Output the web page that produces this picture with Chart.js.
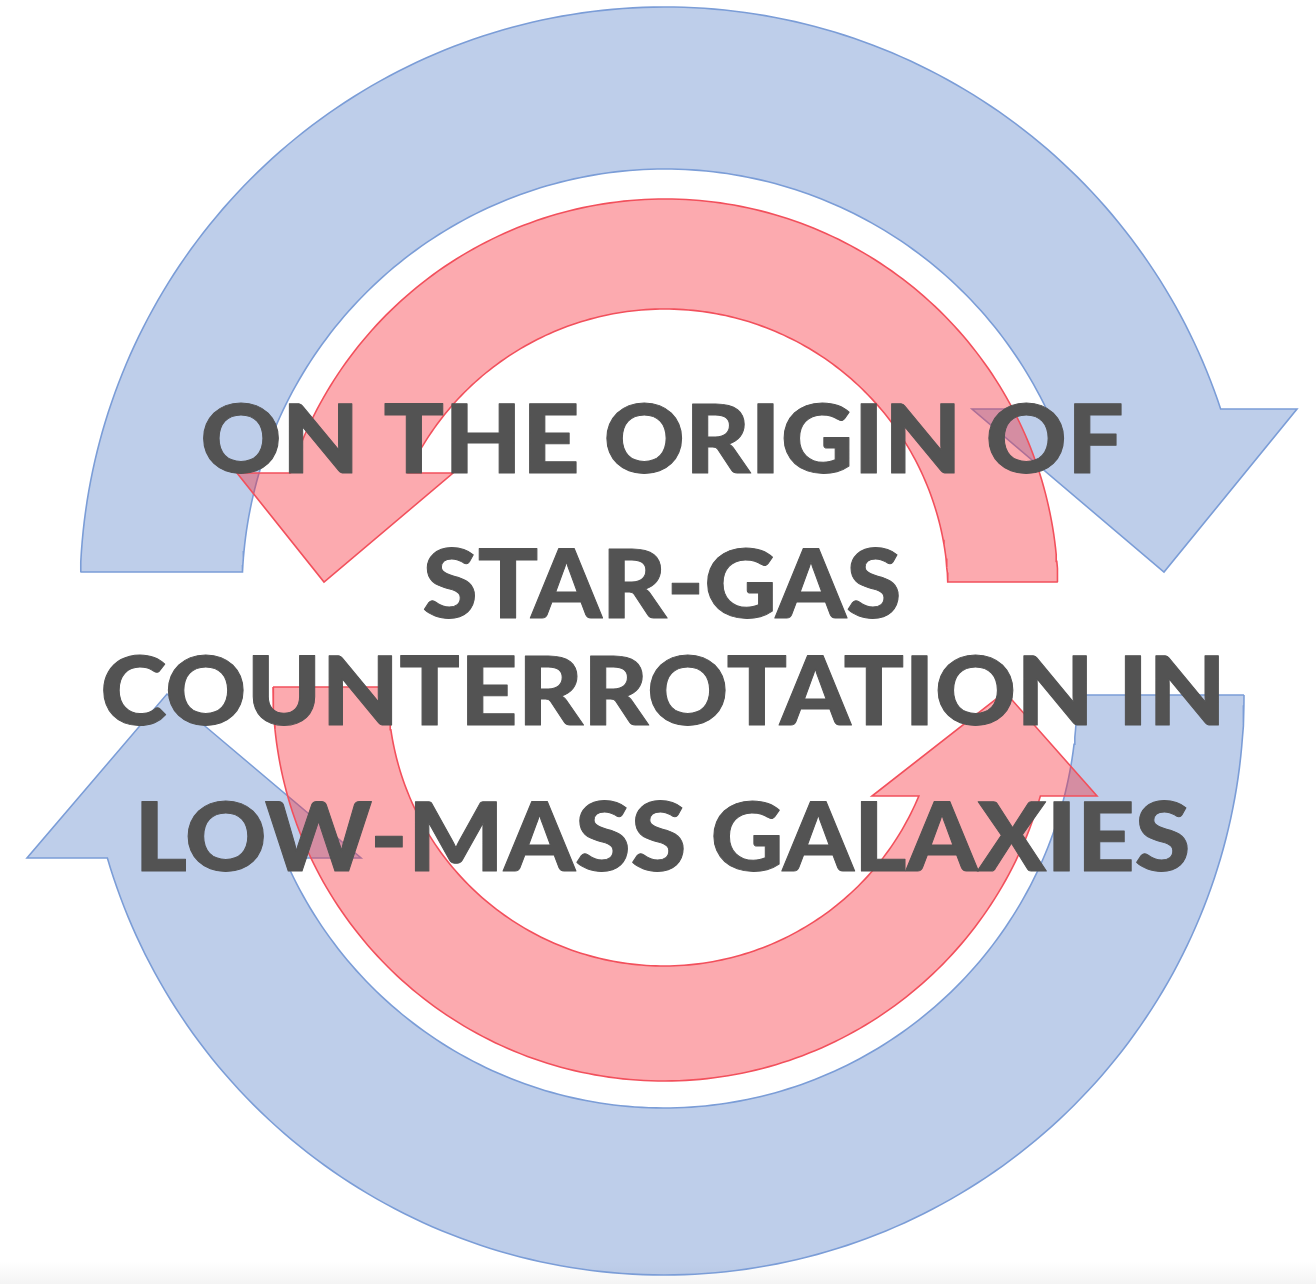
<!DOCTYPE html>
<html>
<head>
<meta charset="utf-8">
<script src="https://cdn.jsdelivr.net/npm/chart.js@4.4.1/dist/chart.umd.min.js"></script>
<style>
  html, body { margin: 0; padding: 0; background: #ffffff; }
  #wrap { width: 1316px; height: 1284px;
          background: linear-gradient(to bottom, #ffffff 0px, #ffffff 1262px, #f4f4f4 1284px); }
  canvas { display: block; }
</style>
</head>
<body>
<div id="wrap"><canvas id="c" width="1316" height="1284"></canvas></div>
<script>
// ---- Diagram data (in picture units) ----
const ringNames     = ['blue-upper', 'blue-lower', 'red-upper', 'red-lower'];
const ringCenterX   = [665, 664, 665, 664];
const ringCenterY   = [592, 695, 592, 690];
const ringOuterR    = [585, 580, 393, 391];
const ringInnerR    = [423, 413, 283, 276];
const tailCutY      = [572, 695, 582, 687];
const tailSide      = [-1, 1, 1, -1];
const headSide      = [1, -1, -1, 1];
const sweepDir      = [-1, -1, 1, 1];
const headBaseY     = [409, 858, 473, 796];
const headOuterWing = [1297, 27, 237, 1097];
const headInnerWing = [972, 361, 453, 872];
const headTipX      = [1164, 167, 324, 1005];
const headTipY      = [572, 694, 582, 692];

const titleLines    = ['ON THE ORIGIN OF', 'STAR-GAS', 'COUNTERROTATION IN', 'LOW-MASS GALAXIES'];

// ---- layout / style (kept separate from the data) ----
const titleBaseline = [473, 618, 725, 871];
const titleLeft     = [203, 423, 103, 141];
const titleRight    = [1122, 899, 1219, 1188];
const ringFill   = ['rgba(68,114,196,0.35)', 'rgba(68,114,196,0.35)', 'rgba(248,42,54,0.40)', 'rgba(248,42,54,0.40)'];
const ringStroke = ['#7b9dd7', '#7b9dd7', '#f2505c', '#f2505c'];
const textBolden = 1;

function arc(cx, cy, r, a0, a1, n) {
  const pts = [];
  for (let i = 0; i <= n; i++) {
    const a = a0 + (a1 - a0) * i / n;
    pts.push({ x: cx + r * Math.cos(a), y: cy - r * Math.sin(a) });
  }
  return pts;
}
function angleAt(cx, cy, r, y, side) {
  const dy = cy - y;
  return Math.atan2(dy, side * Math.sqrt(Math.max(r * r - dy * dy, 0)));
}
function norm(a0, a1, dir) {
  if (dir < 0) { while (a1 >= a0) a1 -= 2 * Math.PI; }
  else { while (a1 <= a0) a1 += 2 * Math.PI; }
  return a1;
}
function ringPolygon(i) {
  const cx = ringCenterX[i], cy = ringCenterY[i], Ro = ringOuterR[i], Ri = ringInnerR[i];
  const tO = angleAt(cx, cy, Ro, tailCutY[i], tailSide[i]);
  const tI = angleAt(cx, cy, Ri, tailCutY[i], tailSide[i]);
  let hO = angleAt(cx, cy, Ro, headBaseY[i], headSide[i]);
  let hI = angleAt(cx, cy, Ri, headBaseY[i], headSide[i]);
  hO = norm(tO, hO, sweepDir[i]);
  hI = norm(tI, hI, sweepDir[i]);
  const outer = arc(cx, cy, Ro, tO, hO, 160);
  const inner = arc(cx, cy, Ri, hI, tI, 160);
  return [
    ...outer,
    { x: headOuterWing[i], y: headBaseY[i] },
    { x: headTipX[i], y: headTipY[i] },
    { x: headInnerWing[i], y: headBaseY[i] },
    ...inner,
    outer[0]
  ];
}

const datasets = ringNames.map((name, i) => ({
  label: name,
  data: ringPolygon(i),
  showLine: true,
  fill: 'shape',
  backgroundColor: ringFill[i],
  borderColor: ringStroke[i],
  borderWidth: 1.6,
  pointRadius: 0,
  tension: 0,
  order: i < 2 ? 2 : 1
}));

const titlePlugin = {
  id: 'titleText',
  afterDatasetsDraw(chart) {
    const ctx = chart.ctx;
    const xs = chart.scales.x, ys = chart.scales.y;
    ctx.save();
    ctx.fillStyle = '#535353';
    ctx.strokeStyle = '#535353';
    ctx.lineJoin = 'round';
    ctx.font = '900 96px Lato, "Open Sans", sans-serif';
    ctx.textAlign = 'left';
    ctx.textBaseline = 'alphabetic';
    titleLines.forEach((t, i) => {
      const half = textBolden / 2;
      const L = xs.getPixelForValue(titleLeft[i]) + half;
      const R = xs.getPixelForValue(titleRight[i]) - half;
      const B = ys.getPixelForValue(titleBaseline[i]) - half;
      const m = ctx.measureText(t);
      const ink = m.actualBoundingBoxLeft + m.actualBoundingBoxRight;
      const sx = (R - L) / ink;
      ctx.save();
      ctx.translate(L + m.actualBoundingBoxLeft * sx, B);
      ctx.scale(sx, 1);
      ctx.lineWidth = textBolden;
      ctx.fillText(t, 0, 0);
      ctx.strokeText(t, 0, 0);
      ctx.restore();
    });
    ctx.restore();
  }
};

new Chart(document.getElementById('c'), {
  type: 'scatter',
  data: { datasets },
  options: {
    responsive: false,
    animation: false,
    layout: { padding: 0 },
    plugins: { legend: { display: false }, tooltip: { enabled: false }, title: { display: false } },
    scales: {
      x: { type: 'linear', min: 0, max: 1316, display: false },
      y: { type: 'linear', min: 0, max: 1284, reverse: true, display: false }
    }
  },
  plugins: [titlePlugin]
});
</script>
</body>
</html>
